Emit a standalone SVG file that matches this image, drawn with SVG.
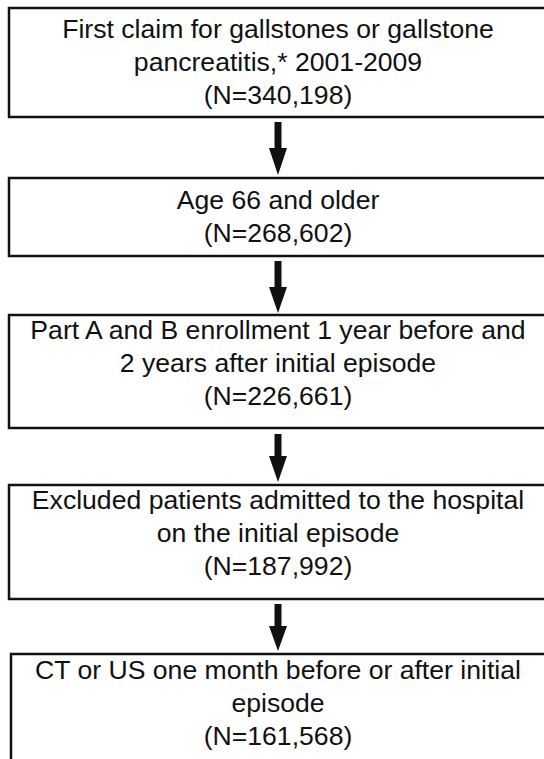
<svg xmlns="http://www.w3.org/2000/svg" width="544" height="759" viewBox="0 0 544 759">
<style>
.box{fill:#fff;stroke:#111;stroke-width:2.5}
.t{font-family:"Liberation Sans",Arial,sans-serif;font-size:26.6px;fill:#111;text-anchor:middle}
.shaft{stroke:#111;stroke-width:7}
.head{fill:#111}
</style>
<rect width="544" height="759" fill="#fff"/>
<g id="n1">
<rect class="box" x="9" y="8" width="538" height="109"/>
<text class="t" x="278" y="38">First claim for gallstones or gallstone</text>
<text class="t" x="278" y="71">pancreatitis,* 2001-2009</text>
<text class="t" x="278" y="104">(N=340,198)</text>
</g>
<g id="n2">
<rect class="box" x="9" y="178" width="538" height="78"/>
<text class="t" x="278" y="209">Age 66 and older</text>
<text class="t" x="278" y="242">(N=268,602)</text>
</g>
<g id="n3">
<rect class="box" x="9" y="315" width="538" height="113"/>
<text class="t" x="278" y="339">Part A and B enrollment 1 year before and</text>
<text class="t" x="278" y="372">2 years after initial episode</text>
<text class="t" x="278" y="405">(N=226,661)</text>
</g>
<g id="n4">
<rect class="box" x="9" y="485" width="538" height="114"/>
<text class="t" x="278" y="509">Excluded patients admitted to the hospital</text>
<text class="t" x="278" y="542">on the initial episode</text>
<text class="t" x="278" y="575">(N=187,992)</text>
</g>
<g id="n5">
<rect class="box" x="11" y="654" width="538" height="120"/>
<text class="t" x="278" y="679">CT or US one month before or after initial</text>
<text class="t" x="278" y="712">episode</text>
<text class="t" x="278" y="745">(N=161,568)</text>
</g>
<g id="connectors">
<line class="shaft" x1="278" y1="122" x2="278" y2="150"/>
<polygon class="head" points="269,148 287,148 278,175"/>
<line class="shaft" x1="278" y1="261" x2="278" y2="289"/>
<polygon class="head" points="269,287 287,287 278,313"/>
<line class="shaft" x1="278" y1="434" x2="278" y2="458"/>
<polygon class="head" points="269,456 287,456 278,482"/>
<line class="shaft" x1="278" y1="604" x2="278" y2="628"/>
<polygon class="head" points="269,626 287,626 278,651"/>
</g>
</svg>
